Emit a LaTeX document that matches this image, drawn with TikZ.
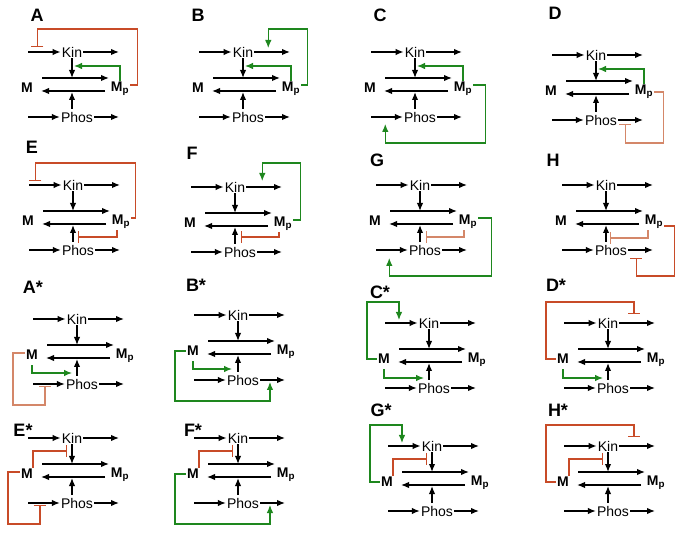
\documentclass[tikz,border=0pt]{standalone}
\usepackage{fontspec}
\setmainfont{Liberation Sans}
\usetikzlibrary{arrows.meta,calc}
\definecolor{actgreen}{RGB}{30,135,30}
\definecolor{inhdark}{RGB}{200,75,40}
\definecolor{inhlight}{RGB}{212,135,105}
\tikzset{
	flow/.style={->,>={Latex[length=8pt,width=6.5pt]},line width=1.4pt},
	act/.style={->,>={Latex[length=8pt,width=6.5pt]},line width=1.1pt,color=actgreen},
	inh/.style={-{Bar[width=12pt]},line width=1.1pt,color=inhdark},
	inhl/.style={inh,color=inhlight},
	txt/.style={inner sep=1pt,font=\fontsize{14}{14}\selectfont},
	mtxt/.style={inner sep=1pt,font=\fontsize{14}{14}\selectfont\bfseries},
	panel/.style={font=\fontsize{18}{18}\selectfont\bfseries},
	module/.pic={
		%Noeuds
		\node[txt]	(-kin)	at (0,0)	{Kin};
		\node[txt]	(-phos)	at (5,65)	{Phos};
		\node[mtxt]	(-m)	at (-45,36)	{M};
		\node[mtxt]	(-mp)	at (48,37)	{M\textsubscript{p}};
		%Extremites
		\coordinate (-kin1)	at (-44,0);
		\coordinate (-kin2)	at (47,0);
		\coordinate (-phos1)	at (-44,65);
		\coordinate (-phos2)	at (47,65);
		\coordinate (-fwd1)	at (-30,26);
		\coordinate (-fwd2)	at (37,26);
		\coordinate (-bwd1)	at (33,39);
		\coordinate (-bwd2)	at (-31,39);
		\coordinate (-ktip)	at (0,26);
		\coordinate (-ptip)	at (0,40);
		\coordinate (-pbot)	at (0,57);
		%Fleches
		\draw [flow]	(-kin1)	-- (-kin)	;
		\draw [flow]	(-kin)	-- (-kin2)	;
		\draw [flow]	(-phos1)	-- (-phos)	;
		\draw [flow]	(-phos)	-- (-phos2)	;
		\draw [flow]	(-fwd1)	-- (-fwd2)	;
		\draw [flow]	(-bwd1)	-- (-bwd2)	;
		\draw [flow]	(-kin)	-- (-ktip)	;
		\draw [flow]	(-pbot)	-- (-ptip)	;
	}
}
\begin{document}
\begin{tikzpicture}[x=1pt,y=-1pt]
	\useasboundingbox (0,0) rectangle (686,537) ;
	%Modules
	\pic (a)	at (72,52)	{module} ;
	\pic (b)	at (243,52)	{module} ;
	\pic (c)	at (415,52)	{module} ;
	\pic (d)	at (596,55)	{module} ;
	\pic (e)	at (73,185)	{module} ;
	\pic (f)	at (235,187)	{module} ;
	\pic (g)	at (420,185)	{module} ;
	\pic (h)	at (606,185)	{module} ;
	\pic (as)	at (77,319)	{module} ;
	\pic (bs)	at (238,315)	{module} ;
	\pic (cs)	at (429,323)	{module} ;
	\pic (ds)	at (608,323)	{module} ;
	\pic (es)	at (72,438)	{module} ;
	\pic (fs)	at (238,438)	{module} ;
	\pic (gs)	at (432,446)	{module} ;
	\pic (hs)	at (608,446)	{module} ;
	%Lettres
	\node [panel] (la)	at (37,15)	{A} ;
	\node [panel] (lb)	at (198,15)	{B} ;
	\node [panel] (lc)	at (380,15)	{C} ;
	\node [panel] (ld)	at (555,13)	{D} ;
	\node [panel] (le)	at (32,147)	{E} ;
	\node [panel] (lf)	at (192,153)	{F} ;
	\node [panel] (lg)	at (377,160)	{G} ;
	\node [panel] (lh)	at (553,160)	{H} ;
	\node [panel] (las)	at (33,287)	{A*} ;
	\node [panel] (lbs)	at (196,285)	{B*} ;
	\node [panel] (lcs)	at (380,292)	{C*} ;
	\node [panel] (lds)	at (556,285)	{D*} ;
	\node [panel] (les)	at (23,430)	{E*} ;
	\node [panel] (lfs)	at (193,430)	{F*} ;
	\node [panel] (lgs)	at (381,410)	{G*} ;
	\node [panel] (lhs)	at (558,410)	{H*} ;
	%Boucles A-D
	\draw [inh]	([yshift=4pt]a-mp.east) -| ++(7,-56) -| ++(-100,18) ;
	\draw [act]	(a-mp.north) |- ($(a-kin)+(2,14)$) ;
	\draw [act]	([yshift=4pt]b-mp.east) -| ++(6,-56) -| ++(-39,19) ;
	\draw [act]	(b-mp.north) |- ($(b-kin)+(2,14)$) ;
	\draw [act]	([yshift=4pt]c-mp.east) -| ++(12,58) -| ++(-100,-19) ;
	\draw [act]	(c-mp.north) |- ($(c-kin)+(2,14)$) ;
	\draw [inhl]	(d-mp.east) -| ++(9,51) -| ++(-38,-19) ;
	\draw [act]	(d-mp.north) |- ($(d-kin)+(2,14)$) ;
	%Boucles E-H
	\draw [inh]	([yshift=4pt]e-mp.east) -| ++(4,-55) -| ++(-100,18) ;
	\draw [inh]	([xshift=-4pt]e-mp.south) |- ($(e-kin)+(5,52)$) ;
	\draw [act]	([yshift=4pt]f-mp.east) -| ++(7,-57) -| ++(-38,18) ;
	\draw [inh]	([xshift=-4pt]f-mp.south) |- ($(f-kin)+(6,50)$) ;
	\draw [act]	([yshift=4pt]g-mp.east) -| ++(13,58) -| ++(-102,-18) ;
	\draw [inhl]	([xshift=-4pt]g-mp.south) |- ($(g-kin)+(6,52)$) ;
	\draw [inh]	([yshift=-4pt]h-mp.east) -| ++(10,50) -| ++(-38,-18) ;
	\draw [inhl]	([xshift=-6pt]h-mp.south) |- ($(h-kin)+(4,53)$) ;
	%Boucles A*-D*
	\draw [inhl]	([yshift=2pt]as-m.west) -| ++(-12,52) -| ++(32,-19) ;
	\draw [act]	([yshift=-4pt]as-m.south) |- ($(as-kin)+(-5,54)$) ;
	\draw [act]	(bs-m.west) -| ++(-11,50) -| ++(95,-19) ;
	\draw [act]	([yshift=-4pt]bs-m.south) |- ($(bs-kin)+(-6,54)$) ;
	\draw [act]	(cs-m.west) -| ++(-10,-57) -| ++(32,18) ;
	\draw [act]	([yshift=-4pt]cs-m.south) |- ($(cs-kin)+(-5,55)$) ;
	\draw [inh]	(ds-m.west) -| ++(-10,-57) -| ++(88,12) ;
	\draw [act]	([yshift=-4pt]ds-m.south) |- ($(ds-kin)+(-5,55)$) ;
	%Boucles E*-H*
	\draw [inh]	([yshift=2pt]es-m.west) -| ++(-12,52) -| ++(32,-19) ;
	\draw [inh]	([xshift=6pt]es-m.north) |- ($(es-kin)+(-5,13)$) ;
	\draw [act]	(fs-m.west) -| ++(-11,50) -| ++(95,-19) ;
	\draw [inh]	([xshift=6pt]fs-m.north) |- ($(fs-kin)+(-5,13)$) ;
	\draw [act]	(gs-m.west) -| ++(-10,-57) -| ++(32,18) ;
	\draw [inh]	([xshift=6pt]gs-m.north) |- ($(gs-kin)+(-5,13)$) ;
	\draw [inh]	(hs-m.west) -| ++(-10,-57) -| ++(88,12) ;
	\draw [inh]	([xshift=6pt]hs-m.north) |- ($(hs-kin)+(-5,13)$) ;
\end{tikzpicture}
\end{document}
